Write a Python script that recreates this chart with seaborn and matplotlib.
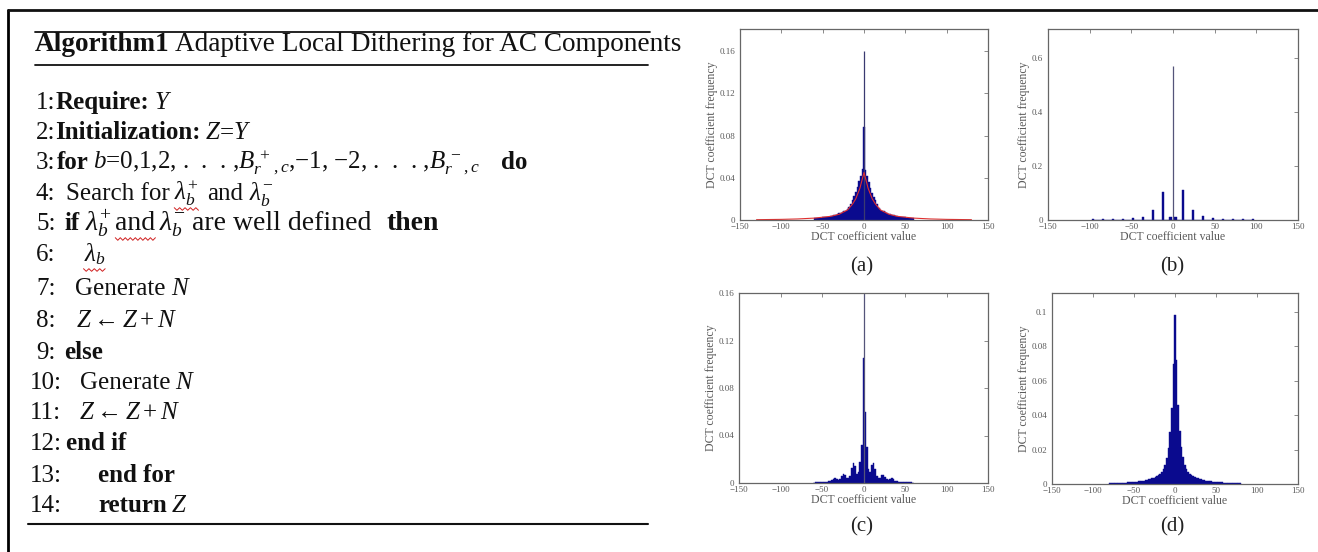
import numpy as np
import pandas as pd
import matplotlib
matplotlib.use("Agg")
import matplotlib.pyplot as plt
import seaborn as sns
from matplotlib.lines import Line2D

# ---------------- data ----------------
x_ticks = [-150, -100, -50, 0, 50, 100, 150]
x_ticklabels = ["\u2212150", "\u2212100", "\u221250", "0", "50", "100", "150"]

# (a) histogram (bin width 2), central spike and fitted red curve
a_centers = list(range(-60, 61, 2))
a_heights = [0.0015, 0.0017, 0.0019, 0.0021, 0.0023, 0.0025, 0.0027, 0.0029, 0.0031, 0.0033,
             0.0036, 0.0040, 0.0045, 0.0050, 0.0056, 0.0062, 0.0068, 0.0075, 0.0083, 0.0090,
             0.0100, 0.0120, 0.0150, 0.0190, 0.0225, 0.0265, 0.0310, 0.0365, 0.0420, 0.0480,
             0.0880,
             0.0470, 0.0415, 0.0360, 0.0305, 0.0260, 0.0222, 0.0188, 0.0148, 0.0118, 0.0098,
             0.0089, 0.0082, 0.0074, 0.0067, 0.0061, 0.0055, 0.0049, 0.0044, 0.0040, 0.0036,
             0.0033, 0.0031, 0.0029, 0.0027, 0.0025, 0.0023, 0.0021, 0.0019, 0.0017, 0.0015]
a_spike = 0.16
a_fit_x = [-130, -100, -80, -60, -40, -30, -20, -14, -10, -5, -2, 0,
           2, 5, 10, 14, 20, 30, 40, 60, 80, 100, 130]
a_fit_y = [0.0003, 0.0006, 0.0010, 0.0018, 0.0035, 0.0055, 0.0095, 0.0150, 0.0200, 0.0300, 0.0390, 0.0450,
           0.0390, 0.0300, 0.0200, 0.0150, 0.0095, 0.0055, 0.0035, 0.0018, 0.0010, 0.0006, 0.0003]

# (b) quantised coefficients (bin width 3)
b_centers = [-96, -84, -72, -60, -48, -36, -24, -12, -3, 3, 12, 24, 36, 48, 60, 72, 84, 96]
b_heights = [0.002, 0.002, 0.003, 0.004, 0.006, 0.012, 0.037, 0.105, 0.010,
             0.010, 0.110, 0.037, 0.015, 0.006, 0.004, 0.003, 0.002, 0.002]
b_spike = 0.57

# (c) histogram (bin width 2)
c_centers = list(range(-60, 61, 2))
c_heights = [0.0004, 0.0005, 0.0005, 0.0006, 0.0006, 0.0008, 0.0009, 0.0010, 0.0011, 0.0013,
             0.0016, 0.0022, 0.0035, 0.0042, 0.0030, 0.0028, 0.0035, 0.0060, 0.0080, 0.0070,
             0.0045, 0.0040, 0.0060, 0.0130, 0.0165, 0.0140, 0.0080, 0.0090, 0.0180, 0.0320,
             0.1050,
             0.0600, 0.0300, 0.0120, 0.0090, 0.0150, 0.0170, 0.0120, 0.0060, 0.0040, 0.0045,
             0.0065, 0.0070, 0.0050, 0.0030, 0.0025, 0.0030, 0.0040, 0.0030, 0.0018, 0.0014,
             0.0012, 0.0010, 0.0009, 0.0008, 0.0007, 0.0006, 0.0006, 0.0005, 0.0005, 0.0004]
c_spike = 0.20

# (d) histogram (bin width 2)
d_centers = list(range(-80, 81, 2))
d_heights = [0.0004, 0.0004, 0.0005, 0.0005, 0.0005, 0.0006, 0.0006, 0.0006, 0.0007, 0.0007,
             0.0008, 0.0009, 0.0009, 0.0010, 0.0011, 0.0012, 0.0013, 0.0014, 0.0015, 0.0016,
             0.0018, 0.0020, 0.0022, 0.0024, 0.0027, 0.0030, 0.0033, 0.0037, 0.0041, 0.0046,
             0.0052, 0.0060, 0.0070, 0.0085, 0.0110, 0.0150, 0.0210, 0.0300, 0.0440, 0.0700,
             0.0980,
             0.0720, 0.0460, 0.0310, 0.0215, 0.0155, 0.0112, 0.0087, 0.0072, 0.0060, 0.0052,
             0.0046, 0.0041, 0.0037, 0.0034, 0.0031, 0.0028, 0.0025, 0.0022, 0.0020, 0.0018,
             0.0016, 0.0015, 0.0014, 0.0013, 0.0012, 0.0011, 0.0010, 0.0009, 0.0009, 0.0008,
             0.0007, 0.0007, 0.0006, 0.0006, 0.0006, 0.0005, 0.0005, 0.0005, 0.0004, 0.0004]

panel_letters = ["(a)", "(b)", "(c)", "(d)"]
x_label = "DCT coefficient value"
y_label = "DCT coefficient frequency"

# ---------------- figure ----------------
sns.set_theme(style="white")
plt.rcParams['font.family'] = ['Liberation Serif', 'DejaVu Serif']
plt.rcParams['mathtext.fontset'] = 'custom'
plt.rcParams['mathtext.rm'] = 'Liberation Serif'
plt.rcParams['mathtext.it'] = 'Liberation Serif:italic'
plt.rcParams['mathtext.bf'] = 'Liberation Serif:bold'

W, H = 1318, 552
fig = plt.figure(figsize=(W / 100, H / 100), dpi=100)
fig.patch.set_facecolor("white")

BLUE = "#0a0a8e"
GREY_TXT = "#5a5a5a"


def add_ax(left, top, right, bottom):
    return fig.add_axes([left / W, 1 - bottom / H, (right - left) / W, (bottom - top) / H])


def style_ax(ax, ylim, yticks, yticklabels):
    ax.set_xlim(-150, 150)
    ax.set_ylim(*ylim)
    ax.set_xticks(x_ticks)
    ax.set_xticklabels(x_ticklabels)
    ax.set_yticks(yticks)
    ax.set_yticklabels(yticklabels)
    ax.tick_params(direction="in", top=True, right=True, length=3, width=0.6,
                   labelsize=6.5, labelcolor=GREY_TXT, color="#777777")
    ax.tick_params(axis="x", pad=2.5)
    ax.tick_params(axis="y", pad=3.5)
    for s in ax.spines.values():
        s.set_color("#666666")
        s.set_linewidth(0.9)
    ax.set_xlabel(x_label, fontsize=8.5, color=GREY_TXT, labelpad=0)
    ax.set_ylabel(y_label, fontsize=8.5, color=GREY_TXT, labelpad=1)
    ax.grid(False)


def hist(ax, centers, heights, width):
    df = pd.DataFrame({"value": centers, "freq": heights})
    lo = min(centers) - width / 2
    hi = max(centers) + width / 2
    sns.histplot(data=df, x="value", weights="freq", binwidth=width, binrange=(lo, hi),
                 ax=ax, color=BLUE, alpha=1.0, edgecolor=BLUE, linewidth=0.3, stat="count")


# (a)
ax_a = add_ax(740, 29, 988, 220)
hist(ax_a, a_centers, a_heights, 2)
ax_a.vlines([0], 0, [a_spike], color="#3a3a70", lw=0.9)
sns.lineplot(x=a_fit_x, y=a_fit_y, ax=ax_a, color="#e03030", lw=0.8)
style_ax(ax_a, (0, 0.181), [0, 0.04, 0.08, 0.12, 0.16], ["0", "0.04", "0.08", "0.12", "0.16"])

# (b)
ax_b = add_ax(1048, 29, 1298, 220)
hist(ax_b, b_centers, b_heights, 3)
ax_b.vlines([0], 0, [b_spike], color="#55557a", lw=0.9)
style_ax(ax_b, (0, 0.707), [0, 0.2, 0.4, 0.6], ["0", "0.2", "0.4", "0.6"])

# (c)
ax_c = add_ax(739, 293, 988, 483)
hist(ax_c, c_centers, c_heights, 2)
ax_c.vlines([0], 0, [c_spike], color="#55557a", lw=0.9)
style_ax(ax_c, (0, 0.16), [0, 0.04, 0.08, 0.12, 0.16], ["0", "0.04", "0.08", "0.12", "0.16"])

# (d)
ax_d = add_ax(1052, 293, 1298, 484)
hist(ax_d, d_centers, d_heights, 2)
style_ax(ax_d, (0, 0.111), [0, 0.02, 0.04, 0.06, 0.08, 0.1], ["0", "0.02", "0.04", "0.06", "0.08", "0.1"])

for (cx, cy), lab in zip([(862, 267), (1172, 267), (862, 527), (1172, 527)], panel_letters):
    fig.text(cx / W, 1 - cy / H, lab, ha="center", va="center", fontsize=15, color="#222222")

# ---------------- algorithm box ----------------
renderer = fig.canvas.get_renderer()
TXT = "#111111"


def squiggle(x0, x1, y):
    n = max(int((x1 - x0) / 2.5), 2)
    xs = [x0 + (x1 - x0) * k / n for k in range(n + 1)]
    ys = [y + (1.3 if k % 2 else -1.3) for k in range(n + 1)]
    fig.add_artist(Line2D([v / W for v in xs], [1 - v / H for v in ys], color="#d02020", lw=0.7,
                          transform=fig.transFigure))


def put_runs(x_px, y_px, parts, size=18):
    x = x_px
    for part in parts:
        txt, st, gap = part[:3]
        sz = part[3] if len(part) > 3 else size
        kw = dict(fontsize=sz, va="baseline", ha="left", color=TXT)
        if "b" in st:
            kw["fontweight"] = "bold"
        if "i" in st:
            kw["fontstyle"] = "italic"
        t = fig.text(x / W, 1 - y_px / H, txt, **kw)
        bb = t.get_window_extent(renderer=renderer)
        if "w" in st:
            squiggle(x, x + bb.width, y_px + 9)
        x += bb.width + gap


def hline(x0, x1, y, lw):
    fig.add_artist(Line2D([x0 / W, x1 / W], [1 - y / H, 1 - y / H], color="#111111", lw=lw,
                          transform=fig.transFigure))


# outer frame
fig.add_artist(Line2D([8 / W, 8 / W], [0, 1 - 10 / H], color="black", lw=2, transform=fig.transFigure))
hline(8, W, 10, 2)

hline(35, 650, 32, 1.3)
put_runs(35, 51, [("Algorithm1", "b", 5), ("Adaptive Local Dithering for AC Components", "r", 0)], size=19.6)
hline(35, 648, 65, 1.3)

MINUS = "\u2212"
line3 = (r"$b$=0,1,2, .  .  . ,$B_{r}^{\,+}{}_{,c}$," + MINUS + "1, " + MINUS
         + r"2, .  .  . ,$B_{r}^{\,-}{}_{,c}$")

rows = [
    (102, 36, [("1:", "r", 0), ("Require:", "b", 5), ("Y", "i", 0)]),
    (132, 36, [("2:", "r", 0), ("Initialization:", "b", 5), ("Z", "i", 0), ("=", "r", 0), ("Y", "i", 0)]),
    (162, 36, [("3:", "r", 1), ("for", "b", 5), (line3, "r", 20), ("do", "b", 0)]),
    (193, 36, [("4:", "r", 10), ("Search for", "r", 5), (r"$\lambda^{+}_{b}$", "rw", 9),
               ("and", "r", 5), (r"$\lambda^{-}_{b}$", "r", 0)]),
    (223, 36, [("5:", "r", 9), ("if", "b", 5), (r"$\lambda^{+}_{b}$", "r", 4, 20), ("and", "rw", 4, 20),
               (r"$\lambda^{-}_{b}$", "r", 6, 20), ("are well defined", "r", 15, 20), ("then", "b", 0, 20)]),
    (254, 36, [("6:", "r", 28), (r"$\lambda_{b}$", "rw", 0)]),
    (288, 36, [("7:", "r", 20), ("Generate", "r", 5), ("N", "i", 0)]),
    (320, 36, [("8:", "r", 20), (r"$Z \leftarrow Z + N$", "r", 0)]),
    (352, 36, [("9:", "r", 9), ("else", "b", 0)]),
    (382, 30, [("10:", "r", 18), ("Generate", "r", 5), ("N", "i", 0)]),
    (412, 30, [("11:", "r", 18), (r"$Z \leftarrow Z + N$", "r", 0)]),
    (443, 30, [("12:", "r", 4), ("end if", "b", 0)]),
    (475, 30, [("13:", "r", 36), ("end for", "b", 0)]),
    (505, 30, [("14:", "r", 36), ("return", "b", 5), ("Z", "i", 0)]),
]
for y, x0, parts in rows:
    put_runs(x0, y + 7, parts, size=18)

hline(28, 648, 524, 1.5)

fig.savefig("out.png", dpi=100, facecolor="white")
